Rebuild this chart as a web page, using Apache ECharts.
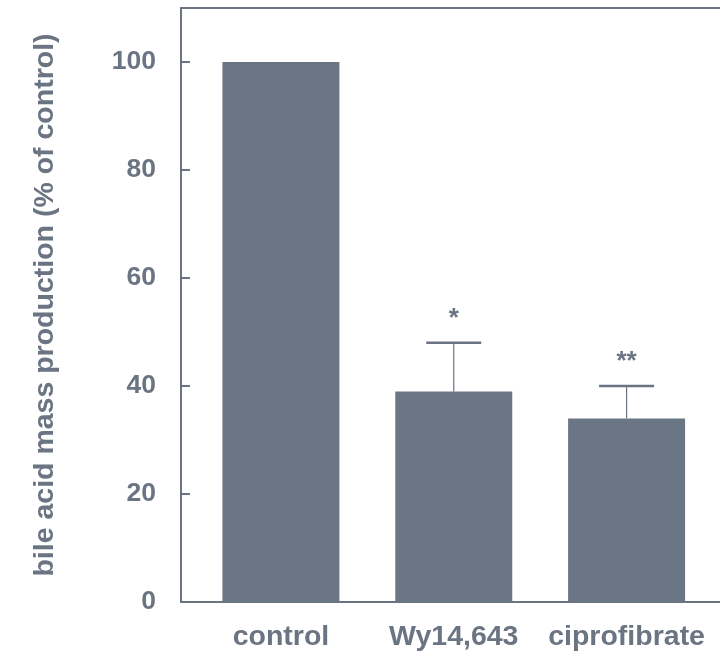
<!DOCTYPE html>
<html>
<head>
<meta charset="utf-8">
<script src="https://cdn.jsdelivr.net/npm/echarts@6/dist/echarts.min.js"></script>
<style>
html,body{margin:0;padding:0;background:#fff;}
#chart{width:720px;height:660px;}
</style>
</head>
<body>
<div id="chart"></div>
<script>
const categories = ['control', 'Wy14,643', 'ciprofibrate'];
const means = [100, 39, 34];
const errorTops = [null, 48, 40];
const significance = ['', '*', '**'];
const yAxisName = 'bile acid mass production (% of control)';

const INK = '#6b7482';
const BAR = '#6b7685';
const FONT = '"Liberation Sans", Arial, sans-serif';

const chart = echarts.init(document.getElementById('chart'), null, {renderer: 'canvas'});

const errData = categories.map((c, i) => [i, means[i], errorTops[i], significance[i]]).filter(d => d[2] != null);

const frameAxis = (pos) => ({
  type: 'value', gridIndex: 1, min: 0, max: 1, position: pos,
  axisLine: {show: true, onZero: false, lineStyle: {color: INK, width: 2}},
  axisTick: {show: false}, axisLabel: {show: false}, splitLine: {show: false}
});

chart.setOption({
  animation: false,
  backgroundColor: '#fff',
  grid: [
    {left: 194.5, right: 7, top: 8, bottom: 58, show: false},
    {left: 181, right: 0, top: 8, bottom: 58, show: false}
  ],
  xAxis: [
    {
      type: 'category', gridIndex: 0, data: categories,
      axisLine: {show: false}, axisTick: {show: false},
      axisLabel: {interval: 0, hideOverlap: false, color: INK, fontFamily: FONT, fontWeight: 'bold', fontSize: 28.5, margin: 21}
    },
    frameAxis('bottom'),
    frameAxis('top')
  ],
  yAxis: [
    {type: 'value', gridIndex: 0, min: 0, max: 110, show: false},
    {
      type: 'value', gridIndex: 1, min: 0, max: 110, interval: 20,
      name: yAxisName, nameLocation: 'middle', nameGap: 121,
      nameTextStyle: {color: INK, fontFamily: FONT, fontWeight: 'bold', fontSize: 28.5},
      axisLine: {show: true, onZero: false, lineStyle: {color: INK, width: 2}},
      axisTick: {show: true, inside: true, length: 9, lineStyle: {color: INK, width: 2}},
      axisLabel: {showMaxLabel: false, color: INK, fontFamily: FONT, fontWeight: 'bold', fontSize: 26.5, margin: 25},
      splitLine: {show: false}
    }
  ],
  series: [
    {
      type: 'bar', xAxisIndex: 0, yAxisIndex: 0, data: means,
      barWidth: 117, itemStyle: {color: BAR}
    },
    {
      type: 'custom', xAxisIndex: 0, yAxisIndex: 0, data: errData,
      z: 5,
      renderItem: function (params, api) {
        const x = api.value(0);
        const base = api.coord([x, api.value(1)]);
        const top = api.coord([x, api.value(2)]);
        const half = 27.5;
        return {
          type: 'group',
          children: [
            {type: 'line', shape: {x1: base[0], y1: base[1], x2: top[0], y2: top[1]}, style: {stroke: INK, lineWidth: 1.2}},
            {type: 'line', shape: {x1: top[0] - half, y1: top[1], x2: top[0] + half, y2: top[1]}, style: {stroke: INK, lineWidth: 2.5}},
            {type: 'text', x: top[0], y: top[1] - 24, style: {text: api.value(3), fill: INK, font: 'bold 26px ' + FONT, textAlign: 'center', textVerticalAlign: 'middle'}}
          ]
        };
      }
    }
  ]
});
</script>
</body>
</html>
